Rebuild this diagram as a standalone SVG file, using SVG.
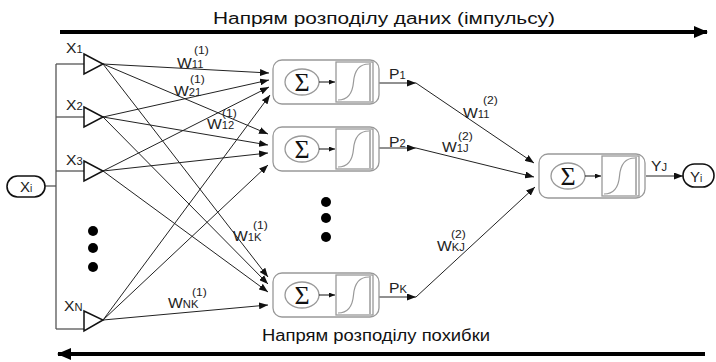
<svg xmlns="http://www.w3.org/2000/svg" width="716" height="362" viewBox="0 0 716 362">
<defs>
<marker id="ah" markerUnits="userSpaceOnUse" markerWidth="9" markerHeight="7" refX="9" refY="3.5" orient="auto"><path d="M0,0 L9,3.5 L0,7 z" fill="#111"/></marker>
<marker id="ahs" markerUnits="userSpaceOnUse" markerWidth="6" markerHeight="5" refX="6" refY="2.5" orient="auto"><path d="M0,0 L6,2.5 L0,5 z" fill="#111"/></marker>
<marker id="big" markerUnits="userSpaceOnUse" markerWidth="14" markerHeight="12" refX="13" refY="6" orient="auto"><path d="M0,0 L14,6 L0,12 z" fill="#000"/></marker>
<g id="neuron">
<rect x="0" y="0" width="106" height="44" rx="9" fill="#fff" stroke="#999" stroke-width="1.3"/>
<ellipse cx="29" cy="22" rx="17" ry="13" fill="#fff" stroke="#999" stroke-width="1.3"/>
<text x="29" y="31" text-anchor="middle" font-family="Liberation Serif, serif" font-size="26" fill="#111">Σ</text>
<line x1="46" y1="22" x2="62" y2="22" stroke="#111" stroke-width="1" marker-end="url(#ahs)"/>
<rect x="63" y="2" width="37" height="40" fill="#fff" stroke="#999" stroke-width="1.3"/>
<line x1="97" y1="3" x2="97" y2="41" stroke="#666" stroke-width="1"/>
<path d="M65,40 Q79,40 80.5,22 Q82,4 96,4" fill="none" stroke="#999" stroke-width="1.2"/>
</g>
</defs>
<style>
.t{font-family:"Liberation Sans",Arial,sans-serif;fill:#222}
.ttl{font-family:"Liberation Sans",Arial,sans-serif;font-size:16px;fill:#111}
.c{stroke:#222;stroke-width:1;fill:none}
.g{stroke:#555;stroke-width:1.3;fill:none}
.tri{fill:#fff;stroke:#111;stroke-width:1.5}
.pill{fill:#fff;stroke:#111;stroke-width:1.6}
</style>
<rect width="716" height="362" fill="#fff"/>

<g id="dir-top">
<text class="ttl" x="213" y="24" textLength="342" lengthAdjust="spacingAndGlyphs">Напрям розподілу даних (імпульсу)</text>
<line x1="60" y1="32" x2="707" y2="32" stroke="#000" stroke-width="4" marker-end="url(#big)"/>
</g>
<g id="dir-bottom">
<text class="ttl" x="262" y="341" textLength="228" lengthAdjust="spacingAndGlyphs">Напрям розподілу похибки</text>
<line x1="705" y1="354" x2="58" y2="354" stroke="#000" stroke-width="4" marker-end="url(#big)"/>
</g>

<g id="connectors">
<line class="g" x1="44" y1="186" x2="56" y2="186"/>
<line class="g" x1="56" y1="64" x2="56" y2="329"/>
<line class="g" x1="56" y1="64" x2="85" y2="64"/>
<line class="g" x1="56" y1="117" x2="85" y2="117"/>
<line class="g" x1="56" y1="171" x2="85" y2="171"/>
<line class="g" x1="56" y1="329" x2="85" y2="329"/>
<g marker-end="url(#ah)">
<line class="c" x1="103" y1="64" x2="269" y2="73"/>
<line class="c" x1="103" y1="117" x2="269" y2="80"/>
<line class="c" x1="103" y1="171" x2="269" y2="87"/>
<line class="c" x1="103" y1="320" x2="270" y2="95"/>
<line class="c" x1="103" y1="64" x2="268" y2="134"/>
<line class="c" x1="103" y1="117" x2="268" y2="145"/>
<line class="c" x1="103" y1="171" x2="268" y2="153"/>
<line class="c" x1="103" y1="320" x2="268" y2="165"/>
<line class="c" x1="103" y1="64" x2="268" y2="277"/>
<line class="c" x1="103" y1="117" x2="268" y2="284"/>
<line class="c" x1="103" y1="171" x2="268" y2="292"/>
<line class="c" x1="103" y1="320" x2="268" y2="305"/>
<line class="c" x1="379" y1="83" x2="416" y2="83"/>
<line class="c" x1="379" y1="148" x2="416" y2="148"/>
<line class="c" x1="379" y1="297" x2="416" y2="297"/>
<line class="c" x1="416" y1="83" x2="534" y2="163"/>
<line class="c" x1="416" y1="148" x2="534" y2="177"/>
<line class="c" x1="416" y1="297" x2="535" y2="187"/>
<line class="c" x1="646" y1="176" x2="683" y2="176"/>
</g>
</g>

<g id="xi"><rect class="pill" x="7" y="176" width="38" height="21" rx="10.5"/><text class="t" x="20" y="192" font-size="15">X<tspan font-size="10">i</tspan></text></g>

<g id="in1"><polygon class="tri" points="84,54 103,64 84,74"/><text class="t" transform="translate(66 53) scale(1.12 1)" font-size="14">X<tspan font-size="10">1</tspan></text></g>
<g id="in2"><polygon class="tri" points="84,107 103,117 84,127"/><text class="t" transform="translate(66 110) scale(1.12 1)" font-size="14">X<tspan font-size="10">2</tspan></text></g>
<g id="in3"><polygon class="tri" points="84,161 103,171 84,181"/><text class="t" transform="translate(66 165) scale(1.12 1)" font-size="14">X<tspan font-size="10">3</tspan></text></g>
<g id="inN"><polygon class="tri" points="84,311 103,320 84,331"/><text class="t" transform="translate(64 311) scale(1.12 1)" font-size="14">X<tspan font-size="10">N</tspan></text></g>

<g id="dots-in" fill="#000"><circle cx="93" cy="231" r="5"/><circle cx="93" cy="248" r="5"/><circle cx="93" cy="267" r="5"/></g>
<g id="dots-hid" fill="#000"><circle cx="326" cy="202" r="5"/><circle cx="326" cy="218" r="5"/><circle cx="326" cy="237" r="5"/></g>

<g id="h1"><use href="#neuron" x="273" y="60"/><text class="t" transform="translate(389 79) scale(1.12 1)" font-size="14">P<tspan font-size="10">1</tspan></text></g>
<g id="h2"><use href="#neuron" x="273" y="127"/><text class="t" transform="translate(389 147) scale(1.12 1)" font-size="14">P<tspan font-size="10">2</tspan></text></g>
<g id="hK"><use href="#neuron" x="273" y="273"/><text class="t" transform="translate(389 293) scale(1.12 1)" font-size="14">P<tspan font-size="10">K</tspan></text></g>
<g id="out"><use href="#neuron" x="539" y="154"/><text class="t" transform="translate(651 171) scale(1.12 1)" font-size="14">Y<tspan font-size="10">J</tspan></text></g>

<g id="yi"><rect class="pill" x="683" y="164" width="31" height="23" rx="11.5"/><text class="t" x="690" y="182" font-size="15">Y<tspan font-size="10">i</tspan></text></g>

<g id="weights">
<text class="t" transform="translate(177 68) scale(1.12 1)" font-size="14">W<tspan font-size="10">11</tspan></text>
<text class="t" transform="translate(194 54) scale(1.1 1)" font-size="11">(1)</text>
<text class="t" transform="translate(174 96) scale(1.12 1)" font-size="14">W<tspan font-size="10">21</tspan></text>
<text class="t" transform="translate(190 83) scale(1.1 1)" font-size="11">(1)</text>
<text class="t" transform="translate(207 129) scale(1.12 1)" font-size="14">W<tspan font-size="10">12</tspan></text>
<text class="t" transform="translate(222 117) scale(1.1 1)" font-size="11">(1)</text>
<text class="t" transform="translate(233 241) scale(1.12 1)" font-size="14">W<tspan font-size="10">1K</tspan></text>
<text class="t" transform="translate(253 229) scale(1.1 1)" font-size="11">(1)</text>
<text class="t" transform="translate(168 308) scale(1.12 1)" font-size="14">W<tspan font-size="10">NK</tspan></text>
<text class="t" transform="translate(192 296) scale(1.1 1)" font-size="11">(1)</text>
<text class="t" transform="translate(463 118) scale(1.12 1)" font-size="14">W<tspan font-size="10">11</tspan></text>
<text class="t" transform="translate(483 104) scale(1.1 1)" font-size="11">(2)</text>
<text class="t" transform="translate(442 152) scale(1.12 1)" font-size="14">W<tspan font-size="10">1J</tspan></text>
<text class="t" transform="translate(458 140) scale(1.1 1)" font-size="11">(2)</text>
<text class="t" transform="translate(437 251) scale(1.12 1)" font-size="14">W<tspan font-size="10">KJ</tspan></text>
<text class="t" transform="translate(451 238) scale(1.1 1)" font-size="11">(2)</text>
</g>
</svg>
